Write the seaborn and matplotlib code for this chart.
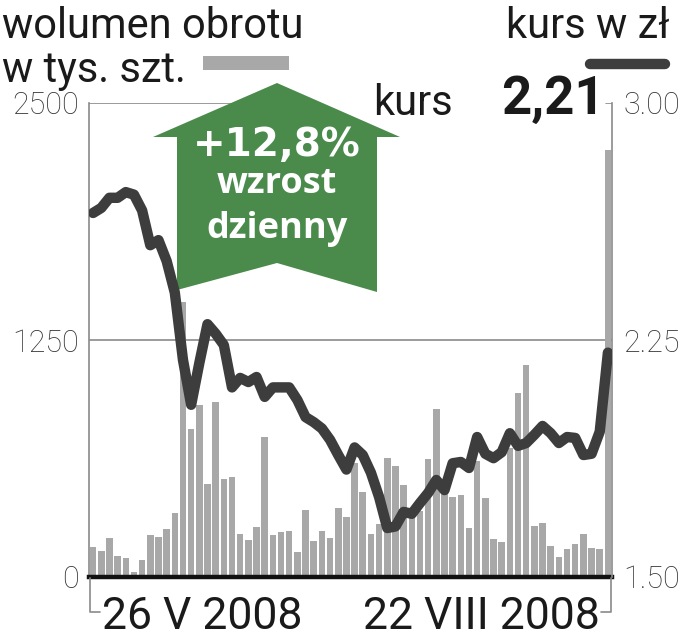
import numpy as np
import pandas as pd
import matplotlib
matplotlib.use('Agg')
import matplotlib.pyplot as plt
from matplotlib.patches import Polygon, Rectangle
from matplotlib.lines import Line2D
import seaborn as sns

# daily turnover (thousand shares) and closing price (zl), 64 sessions
volume = [159, 137, 206, 111, 100, 26, 90, 222, 211, 254,
          338, 1448, 782, 909, 492, 925, 518, 528, 227, 196,
          264, 740, 222, 238, 243, 132, 354, 190, 243, 206,
          365, 317, 603, 449, 227, 280, 629, 587, 486, 338,
          350, 624, 888, 439, 423, 433, 259, 613, 417, 200,
          185, 680, 973, 1120, 270, 285, 164, 106, 148, 174,
          227, 153, 148, 2250]
price = [2.652, 2.668, 2.70, 2.70, 2.718, 2.71, 2.66, 2.55, 2.566, 2.50,
         2.40, 2.187, 2.045, 2.177, 2.30, 2.27, 2.234, 2.10, 2.13, 2.117,
         2.133, 2.07, 2.10, 2.10, 2.10, 2.06, 2.006, 1.99, 1.97, 1.934,
         1.886, 1.84, 1.91, 1.886, 1.83, 1.753, 1.655, 1.66, 1.706, 1.70,
         1.734, 1.766, 1.807, 1.775, 1.86, 1.864, 1.845, 1.943, 1.89, 1.876,
         1.895, 1.955, 1.915, 1.924, 1.95, 1.978, 1.955, 1.924, 1.943, 1.94,
         1.886, 1.89, 1.96, 2.21]
vol_ticks = [0, 1250, 2500]
vol_labels = ['0', '1250', '2500']
price_ticks = [1.50, 2.25, 3.00]
price_labels = ['1.50', '2.25', '3.00']
date_labels = ['26 V 2008', '22 VIII 2008']
last_price = '2,21'
change = '+12,8%'

W, H = 684, 640


def px(x, y):
    """pixel position (from top-left) -> figure fraction"""
    return x / W, 1 - y / H


sns.set_style('white')
plt.rcParams['font.family'] = ['Roboto', 'DejaVu Sans']

df = pd.DataFrame({'session': np.arange(len(volume)), 'volume': volume, 'price': price})

fig = plt.figure(figsize=(W / 100, H / 100), dpi=100)
ax = fig.add_axes([89 / W, 1 - 577 / H, 523 / W, 474 / H])
ax.patch.set_visible(False)

sns.barplot(data=df, x='session', y='volume', ax=ax, color='#a8a8a8',
            saturation=1, width=0.8, linewidth=0, zorder=2)
ax.set_xlim(-0.5, len(volume) - 0.5)
ax.set_ylim(0, 2500)
ax.axhline(1250, color='#8a8a8a', lw=1.2, zorder=1)
ax.axhline(2500, xmin=0, xmax=0.36, color='#8a8a8a', lw=1.2, zorder=1)
ax.set_yticks(vol_ticks)
ax.set_yticklabels(vol_labels)
ax.set_xticks([])
ax.set_xlabel('')
ax.set_ylabel('')
ax.tick_params(axis='y', length=0, pad=7, labelsize=22, labelcolor='#333333')
for lab in ax.get_yticklabels():
    lab.set_fontweight('light')

for side in ['top', 'right']:
    ax.spines[side].set_visible(False)
ax.spines['left'].set_color('#8a8a8a')
ax.spines['left'].set_linewidth(1.2)
ax.spines['bottom'].set_color('#111111')
ax.spines['bottom'].set_linewidth(3.2)
ax.spines['bottom'].set_zorder(5)

ax2 = ax.twinx()
ax2.patch.set_visible(False)
# green arrow sits under the price line
arrow_px = [(177, 290), (177, 137), (153, 137), (277, 83), (400, 137),
            (377, 137), (377, 292), (277, 263)]
ax2.add_patch(Polygon([px(*p) for p in arrow_px], closed=True, transform=fig.transFigure,
                      facecolor='#4a8b4c', edgecolor='none', zorder=1, clip_on=False))
sns.lineplot(data=df, x='session', y='price', ax=ax2, color='#3d3d3d', lw=7.5,
             solid_capstyle='round', solid_joinstyle='round', zorder=3)
ax2.set_ylim(1.5, 3.0)
ax2.set_xlim(-0.5, len(volume) - 0.5)
ax2.set_yticks(price_ticks)
ax2.set_yticklabels(price_labels)
ax2.set_ylabel('')
ax2.set_xlabel('')
ax2.tick_params(axis='y', length=0, pad=8, labelsize=22, labelcolor='#333333')
for lab in ax2.get_yticklabels():
    lab.set_fontweight('light')
for side in ['top', 'left', 'bottom']:
    ax2.spines[side].set_visible(False)
ax2.spines['right'].set_color('#8a8a8a')
ax2.spines['right'].set_linewidth(1.2)
ax2.axhline(3.0, xmin=0.988, xmax=1, color='#8a8a8a', lw=1.2)

# arrow text
fig.text(*px(277, 145), change, color='white', fontsize=28, fontweight='bold',
         ha='center', va='center', family=['DejaVu Sans'])
fig.text(*px(277, 184), 'wzrost', color='white', fontsize=26, fontweight='bold',
         ha='center', va='center', family=['Open Sans', 'DejaVu Sans'])
fig.text(*px(277, 229), 'dzienny', color='white', fontsize=26, fontweight='bold',
         ha='center', va='center', family=['Open Sans', 'DejaVu Sans'])

# headers and legend swatches
fig.text(*px(2, 38), 'wolumen obrotu', fontsize=30, color='#1a1a1a', ha='left', va='baseline')
fig.text(*px(2, 82), 'w tys. szt.', fontsize=30, color='#1a1a1a', ha='left', va='baseline')
fig.add_artist(Rectangle(px(203, 70), 86 / W, 14 / H, transform=fig.transFigure,
                         facecolor='#a8a8a8', edgecolor='none'))
fig.text(*px(670, 38), 'kurs w zł', fontsize=30, color='#1a1a1a', ha='right', va='baseline')
lx0, ly = px(590, 64)
lx1, _ = px(665, 64)
fig.add_artist(Line2D([lx0, lx1], [ly, ly], transform=fig.transFigure, color='#3d3d3d',
                      lw=7.5, solid_capstyle='round'))
fig.text(*px(373, 115), 'kurs', fontsize=30, color='#1a1a1a', ha='left', va='baseline')
fig.text(*px(605, 114), last_price, fontsize=38, fontweight='bold', color='#1a1a1a',
         ha='right', va='baseline')

# date brackets under the axis
for xs, ys in [([90, 90, 100], [578, 612, 612]), ([611, 611, 601], [578, 612, 612])]:
    pts = [px(x, y) for x, y in zip(xs, ys)]
    fig.add_artist(Line2D([p[0] for p in pts], [p[1] for p in pts], transform=fig.transFigure,
                          color='#8a8a8a', lw=1.2))
fig.text(*px(102, 629), date_labels[0], fontsize=32, color='#1a1a1a', ha='left', va='baseline')
fig.text(*px(600, 629), date_labels[1], fontsize=32, color='#1a1a1a', ha='right', va='baseline')

fig.savefig('out.png', dpi=100)
